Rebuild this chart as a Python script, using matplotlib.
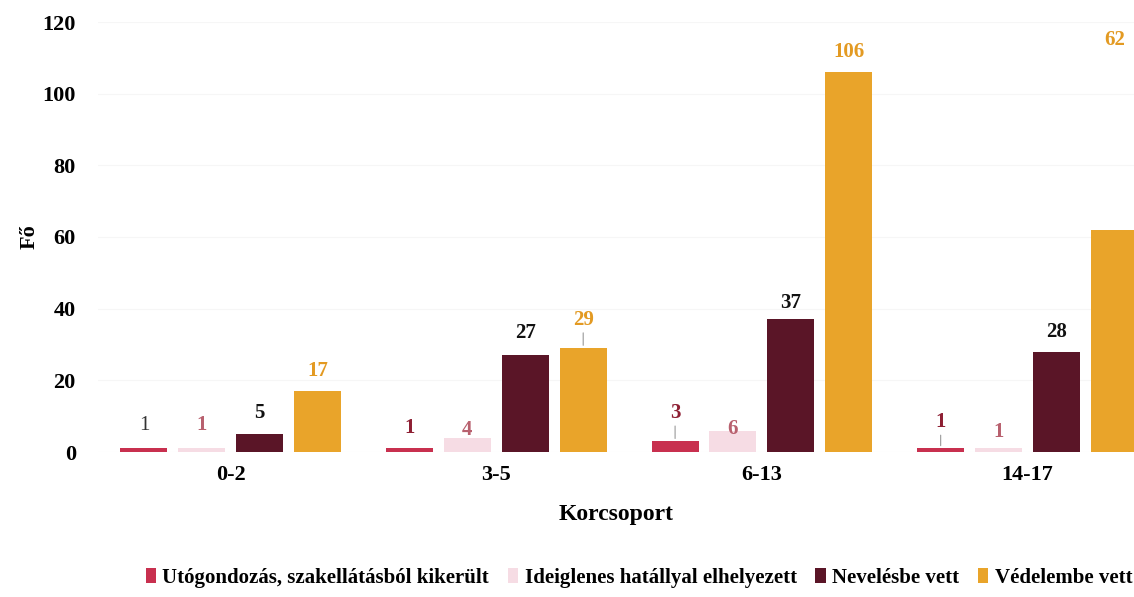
import numpy as np
import matplotlib
matplotlib.use("Agg")
from matplotlib import pyplot as plt

# data
groups = ["0-2", "3-5", "6-13", "14-17"]
series = ["Utógondozás, szakellátásból kikerült", "Ideiglenes hatállyal elhelyezett",
          "Nevelésbe vett", "Védelembe vett"]
utogondozas = [1, 1, 3, 1]
ideiglenes = [1, 4, 6, 1]
nevelesbe = [5, 27, 37, 28]
vedelembe = [17, 29, 106, 62]
yticks = [0, 20, 40, 60, 80, 100, 120]

values = [utogondozas, ideiglenes, nevelesbe, vedelembe]
colors = ["#C8304F", "#F6DCE4", "#5A1527", "#E9A42A"]
label_colors = [["#333333", "#8E1F33", "#8E1F33", "#8E1F33"],
                ["#B8606E"] * 4,
                ["#111111"] * 4,
                ["#E39A22"] * 4]
# text offset above bar top (pixels), and whether a leader line is drawn
label_offsets = [[23, 20, 28, 26],
                 [23, 8, 2, 16],
                 [21, 22, 16, 20],
                 [20, 28, 20, 190]]
leaders = [[False, False, True, True],
           [False] * 4,
           [False] * 4,
           [False, True, False, False]]

plt.rcParams["font.family"] = ["Liberation Serif", "DejaVu Serif"]
plt.rcParams["font.weight"] = "bold"

fig = plt.figure(figsize=(11.34, 5.97), dpi=100)
ax = fig.add_axes([98 / 1134, 145 / 597, 1 - 98 / 1134, 430 / 597])

x = np.arange(len(groups))
width = 0.177
step = 0.218
for i, vals in enumerate(values):
    xs = x + (i - 1.5) * step
    ax.bar(xs, vals, width, color=colors[i], label=series[i], zorder=2)
    for j, v in enumerate(vals):
        off = label_offsets[i][j]
        weight = "normal" if (i == 0 and j == 0) else "bold"
        ax.annotate(str(v), xy=(xs[j], v), xytext=(0, off),
                    textcoords="offset pixels", ha="center", va="center",
                    fontsize=15, fontweight=weight, color=label_colors[i][j],
                    annotation_clip=False)
        if leaders[i][j]:
            ax.annotate("", xy=(xs[j], v), xytext=(0, off - 10),
                        textcoords="offset pixels",
                        arrowprops=dict(arrowstyle="-", color="#999999", lw=0.8))

ax.set_xlim(-0.5, 3.401)
ax.set_ylim(0, 120)
ax.set_yticks(yticks)
ax.set_xticks(x)
ax.set_xticklabels(groups)
ax.tick_params(axis="both", length=0, labelsize=16)
ax.tick_params(axis="y", pad=16)
ax.tick_params(axis="x", pad=9)
ax.yaxis.grid(True, color="#f6f6f6", lw=0.8, zorder=0)
for s in ax.spines.values():
    s.set_visible(False)

ax.set_ylabel("Fő", fontsize=16, fontweight="bold", labelpad=2)
ax.set_xlabel("Korcsoport", fontsize=17, fontweight="bold", labelpad=14)

ax.legend(loc="center", bbox_to_anchor=(639 / 1134, 19 / 597),
          bbox_transform=fig.transFigure, ncol=4, frameon=False,
          fontsize=15, handlelength=0.5, handleheight=0.7,
          handletextpad=0.3, columnspacing=0.9)

fig.savefig("out.png", dpi=100)
